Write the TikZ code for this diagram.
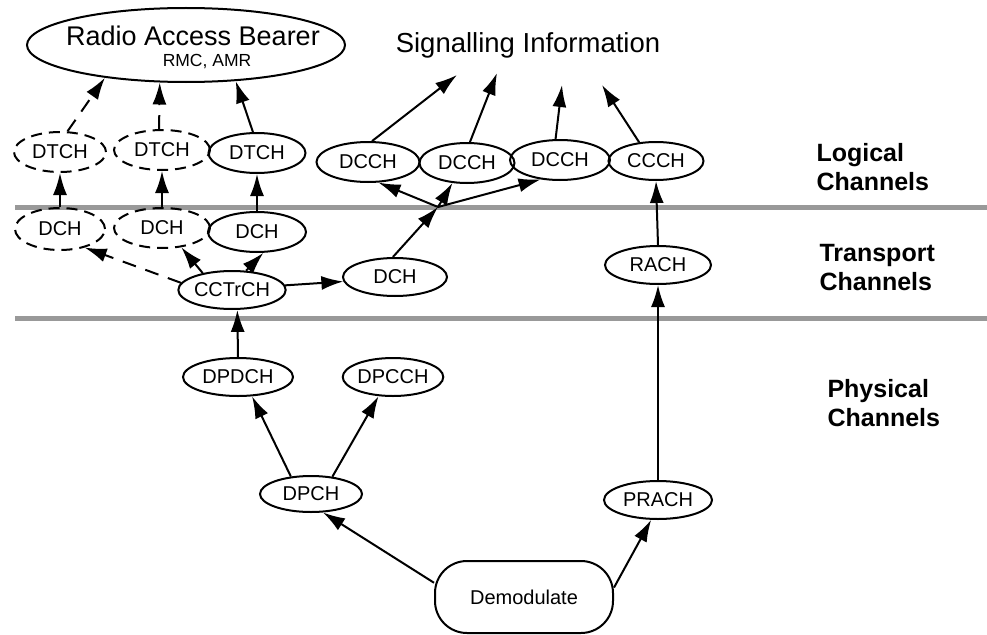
\documentclass[tikz,border=0pt]{standalone}
\usepackage{fontspec}
\setmainfont{Liberation Sans}
\usetikzlibrary{shapes.geometric,arrows.meta}
\begin{document}
\begin{tikzpicture}[x=1pt,y=-1pt,
  chan/.style={ellipse,draw,line width=2pt,inner sep=0pt,font=\fontsize{20}{22}\selectfont},
  dchan/.style={chan,dash pattern=on 11pt off 7pt},
  arr/.style={line width=2pt,-{Latex[length=22pt,width=14pt]}},
  darr/.style={arr,dash pattern=on 14pt off 10pt},
  band/.style={line width=5pt,color=black!40},
  lab/.style={font=\fontsize{25}{29}\selectfont\bfseries,align=left,anchor=west}
]
\useasboundingbox (0,0) rectangle (987,634);

% layer bands
\draw[band] (15,207) -- (987,207);
\draw[band] (15,318) -- (987,318);

% top level
\node[ellipse,draw,line width=2pt,minimum width=318pt,minimum height=74pt,inner sep=0pt] (rab) at (186,45) {};
\node[font=\fontsize{27}{28}\selectfont] (rabt) at (193,36) {Radio Access Bearer};
\node[font=\fontsize{17.5}{18}\selectfont] (rabs) at (207,62) {RMC, AMR};
\node[font=\fontsize{27.5}{28}\selectfont] (sig) at (528,45) {Signalling Information};
\coordinate (s1) at (457,75);
\coordinate (s2) at (497,73);
\coordinate (s3) at (562,85);
\coordinate (s4) at (602,85);

% logical channels
\node[dchan,minimum width=92pt,minimum height=40pt] (dtch1) at (60,152) {DTCH};
\node[dchan,minimum width=96pt,minimum height=40pt] (dtch2) at (162,150) {DTCH};
\node[chan,minimum width=97pt,minimum height=40pt] (dtch3) at (257,153) {DTCH};
\node[chan,minimum width=103pt,minimum height=40pt] (dcch1) at (368,162) {DCCH};
\node[chan,minimum width=95pt,minimum height=40pt] (dcch2) at (467,163) {DCCH};
\node[chan,minimum width=100pt,minimum height=40pt] (dcch3) at (560,160) {DCCH};
\node[chan,minimum width=95pt,minimum height=38pt] (ccch) at (656,161) {CCCH};

% transport channels
\node[dchan,minimum width=90pt,minimum height=42pt] (dch1) at (60,229) {DCH};
\node[dchan,minimum width=96pt,minimum height=40pt] (dch2) at (162,228) {DCH};
\node[chan,minimum width=98pt,minimum height=40pt] (dch3) at (257,232) {DCH};
\node[chan,minimum width=105pt,minimum height=38pt] (cctrch) at (232,290) {CCTrCH};
\node[chan,minimum width=104pt,minimum height=38pt] (dch4) at (395,277) {DCH};
\node[chan,minimum width=106pt,minimum height=38pt] (rach) at (658,265) {RACH};
\coordinate (j) at (438,207);

% physical channels
\node[chan,minimum width=110pt,minimum height=38pt] (dpdch) at (238,377) {DPDCH};
\node[chan,minimum width=96pt,minimum height=38pt] (dpcch) at (393,377) {DPCCH};
\node[chan,minimum width=102pt,minimum height=36pt] (dpch) at (311,494) {DPCH};
\node[chan,minimum width=108pt,minimum height=38pt] (prach) at (658,500) {PRACH};
\node[draw,line width=2pt,rounded corners=32pt,minimum width=178pt,minimum height=72pt,font=\fontsize{20}{22}\selectfont] (demod) at (524,597) {Demodulate};

% side labels
\node[lab] (llog) at (813,167) {Logical\\Channels};
\node[lab] (ltr) at (816,268) {Transport\\Channels};
\node[lab] (lph) at (824,403) {Physical\\Channels};

% connectors
\draw[darr] (dtch1.70) -- (rab.202);
\draw[darr] (dtch2.98) -- (rab.235);
\draw[arr] (dtch3.101) -- (rab.324);
\draw[arr] (dch1.north) -- (dtch1.south);
\draw[arr] (dch2.north) -- (dtch2.south);
\draw[arr] (dch3.north) -- (dtch3.south);
\draw[darr] (cctrch.172) -- (dch1.323);
\draw[darr] (cctrch.150) -- (dch2.315);
\draw[arr] (cctrch.54) -- (dch3.287);
\draw[arr] (cctrch.5) -- (dch4.185);
\draw[arr] (dch4.96) -- (j);
\draw[arr] (j) -- (dcch1.297);
\draw[arr] (j) -- (dcch2.234);
\draw[arr] (j) -- (dcch3.225);
\draw[arr] (dcch1.79) -- (s1);
\draw[arr] (dcch2.82) -- (s2);
\draw[arr] (dcch3.102) -- (s3);
\draw[arr] (ccch.132) -- (s4);
\draw[arr] (rach.north) -- (ccch.south);
\draw[arr] (prach.north) -- (rach.south);
\draw[arr] (dpdch.north) -- (cctrch.285);
\draw[arr] (dpch.139) -- (dpdch.306);
\draw[arr] (dpch.39) -- (dpcch.233);
\draw[arr] (demod.171) -- (dpch.303);
\draw[arr] (demod.6) -- (prach.251);
\end{tikzpicture}
\end{document}
